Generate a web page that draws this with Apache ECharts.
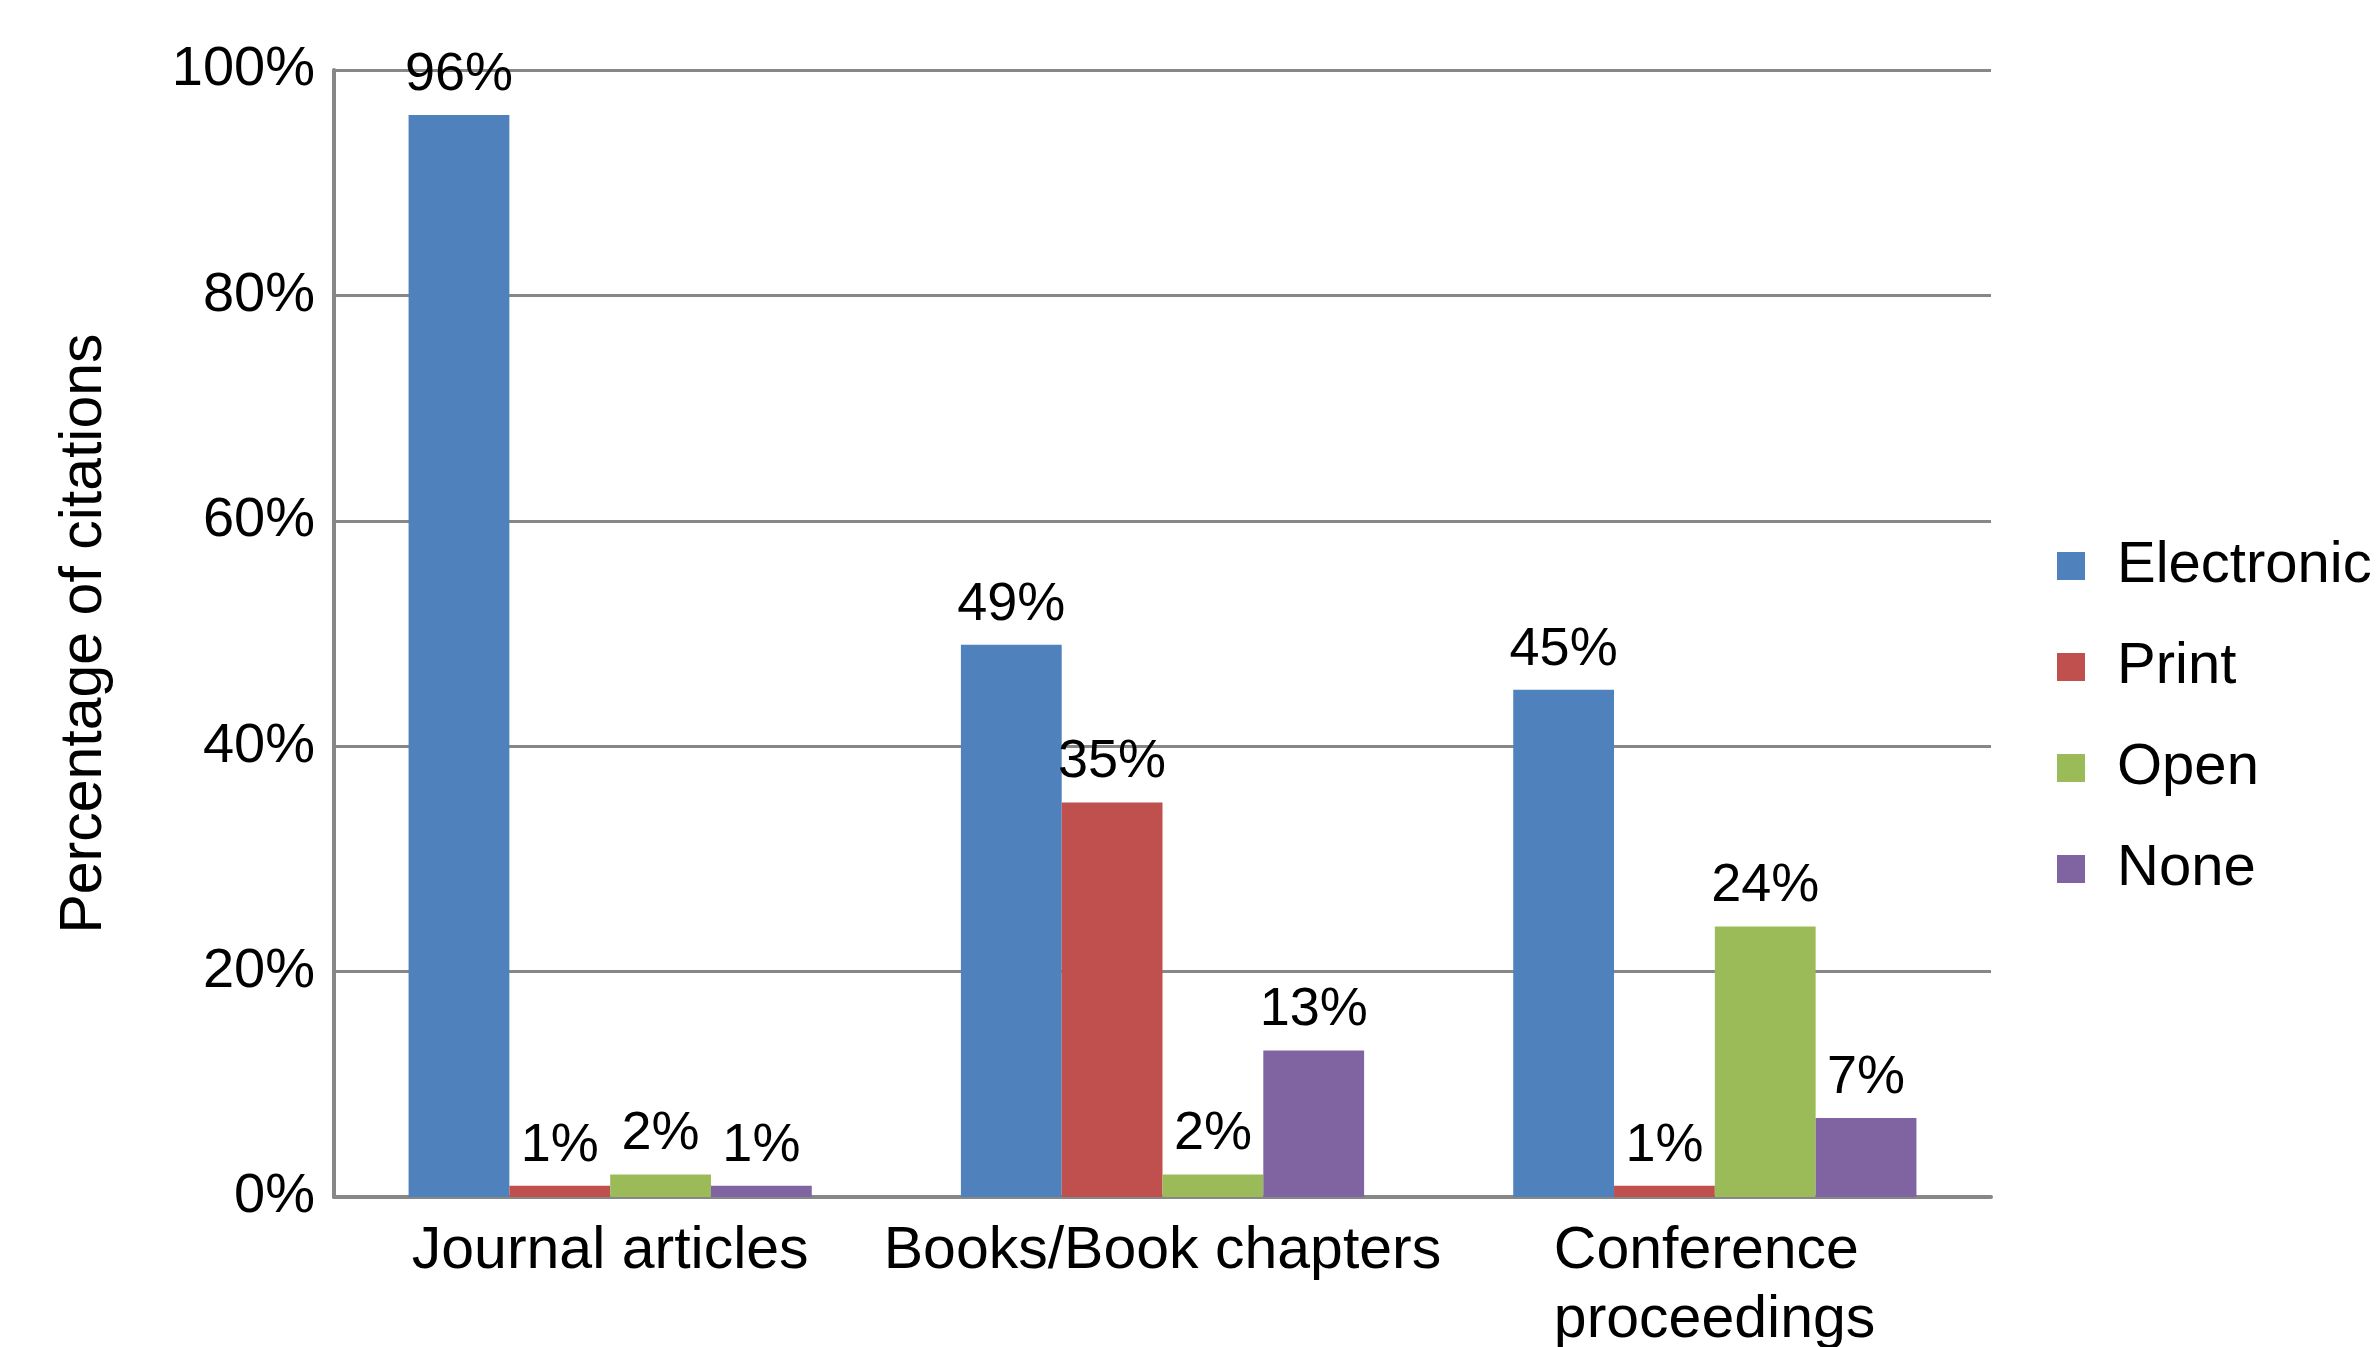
<!DOCTYPE html>
<html>
<head>
<meta charset="utf-8">
<title>Percentage of citations by format</title>
<script src="https://cdn.jsdelivr.net/npm/echarts@6/dist/echarts.min.js"></script>
<style>
  html, body { margin: 0; padding: 0; background: #ffffff; }
  #chart { width: 2378px; height: 1347px; }
</style>
</head>
<body>
<div id="chart"></div>
<script>
// Publication types on the x axis
const categories = ['Journal articles', 'Books/Book chapters', 'Conference\nproceedings'];

// Share of citations (%) by access format
const electronic = [96, 49, 45];
const print      = [1, 35, 1];
const open       = [2, 2, 24];
const none       = [1, 13, 7];

const seriesNames = ['Electronic', 'Print', 'Open', 'None'];
const seriesValues = [electronic, print, open, none];
const seriesColors = ['#4F81BD', '#C0504D', '#9BBB59', '#8064A2'];

const yTicks = { min: 0, max: 100, interval: 20 };

const FONT = '"Liberation Sans", Arial, Helvetica, sans-serif';
const CAT_FONT_SIZE = 59;
const GRID_COLOR = '#878787';

// Width of the widest line of a multi-line label, so its lines can share a left edge
const measureCtx = document.createElement('canvas').getContext('2d');
measureCtx.font = CAT_FONT_SIZE + 'px ' + FONT;
function widestLine(text) {
  return Math.ceil(Math.max(...text.split('\n').map(s => measureCtx.measureText(s).width)));
}

const chart = echarts.init(document.getElementById('chart'), null, { renderer: 'canvas' });

const option = {
  backgroundColor: '#ffffff',
  animation: false,
  textStyle: { fontFamily: FONT, color: '#000' },
  grid: { left: 334, right: 387, top: 70, bottom: 150, containLabel: false, outerBoundsMode: 'none' },
  legend: {
    orient: 'vertical',
    left: 2057,
    top: 536,
    padding: 0,
    itemWidth: 28,
    itemHeight: 28,
    itemGap: 41,
    icon: 'rect',
    data: seriesNames,
    textStyle: { fontFamily: FONT, fontSize: 58, color: '#000', lineHeight: 60, padding: [0, 0, 0, 27] }
  },
  xAxis: {
    type: 'category',
    data: categories,
    axisTick: { show: false },
    axisLine: { show: true, lineStyle: { color: GRID_COLOR, width: 4 } },
    axisLabel: {
      fontFamily: FONT,
      fontSize: CAT_FONT_SIZE,
      color: '#000',
      lineHeight: 69,
      margin: 20,
      interval: 0,
      formatter: function (value) {
        if (value.indexOf('\n') < 0) return value;
        return value.split('\n').map(s => '{l|' + s + '}').join('\n');
      },
      rich: {
        l: {
          fontFamily: FONT,
          fontSize: CAT_FONT_SIZE,
          color: '#000',
          lineHeight: 69,
          align: 'left',
          width: widestLine(categories[2])
        }
      }
    }
  },
  yAxis: {
    type: 'value',
    min: yTicks.min,
    max: yTicks.max,
    interval: yTicks.interval,
    name: 'Percentage of citations',
    nameLocation: 'middle',
    nameRotate: 90,
    nameGap: 220,
    nameTextStyle: { fontFamily: FONT, fontSize: 59, color: '#000' },
    axisLine: { show: true, lineStyle: { color: GRID_COLOR, width: 4 } },
    axisTick: { show: false },
    splitLine: { show: true, lineStyle: { color: GRID_COLOR, width: 3 } },
    axisLabel: {
      fontFamily: FONT,
      fontSize: 56,
      color: '#000',
      margin: 19,
      formatter: '{value}%'
    }
  },
  series: seriesNames.map((name, i) => ({
    name: name,
    type: 'bar',
    data: seriesValues[i],
    barGap: '0%',
    barCategoryGap: '27%',
    itemStyle: { color: seriesColors[i] },
    label: {
      show: true,
      position: 'top',
      distance: 13,
      fontFamily: FONT,
      fontSize: 54,
      color: '#000',
      formatter: '{c}%'
    }
  }))
};

chart.setOption(option);
</script>
</body>
</html>
